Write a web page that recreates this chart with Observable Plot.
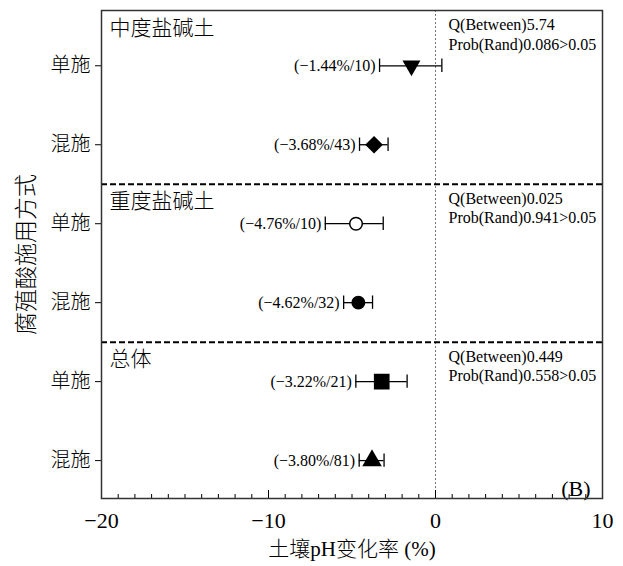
<!DOCTYPE html>
<html><head><meta charset="utf-8">
<script src="https://cdn.jsdelivr.net/npm/d3@7"></script>
<script src="https://cdn.jsdelivr.net/npm/@observablehq/plot@0.6"></script>
<style>body{margin:0;background:#fff}</style>
</head><body><div id="chart"></div>
<script>
// ---- data ----
const rows = [1, 2, 3, 4, 5, 6];
const methods = ["单施", "混施", "单施", "混施", "单施", "混施"];
const means = [-1.44, -3.68, -4.76, -4.62, -3.22, -3.80];
const lower = [-3.35, -4.55, -6.60, -5.50, -4.77, -4.57];
const upper = [0.38, -2.84, -3.13, -3.77, -1.70, -3.08];
const counts = [10, 43, 10, 32, 21, 81];
const markers = ["triangle-down", "diamond", "circle-open", "circle", "square", "triangle"];
const groupNames = ["中度盐碱土", "重度盐碱土", "总体"];
const groupStart = [1, 3, 5];
const qBetween = ["5.74", "0.025", "0.449"];
const probRand = ["0.086", "0.941", "0.558"];
const xMajorTicks = [-20, -10, 0, 10];
const xMinorTicks = d3.range(-20, 11, 1).filter(v => !xMajorTicks.includes(v));
const xLabel = "土壤pH变化率 (%)";
const yLabel = "腐殖酸施用方式";
const panelTag = "(B)";

// ---- build ----
const data = rows.map((r, i) => ({row: r, method: methods[i], mean: means[i], lo: lower[i], hi: upper[i], n: counts[i], marker: markers[i]}));
const yTop = 0.3, yBottom = 6.48;
const groups = groupNames.map((g, i) => {
  const top = i === 0 ? yTop : groupStart[i] - 0.5;
  return {name: g, top, q: `Q(Between)${qBetween[i]}\nProb(Rand)${probRand[i]}>0.05`};
});
const seps = groupStart.slice(1).map(s => s - 0.5);
const caps = data.flatMap(d => [{x: d.lo, row: d.row}, {x: d.hi, row: d.row}]);
const capH = 0.085;
const fmt = d3.format(".2f");

const markerStyle = {
  "triangle-down": {symbol: "triangle", rotate: 180, fill: "black", r: 5.7},
  "diamond": {symbol: "diamond2", rotate: 0, fill: "black", r: 7},
  "circle-open": {symbol: "circle", rotate: 0, fill: "white", r: 6.3},
  "circle": {symbol: "circle", rotate: 0, fill: "black", r: 6.2},
  "square": {symbol: "square", rotate: 0, fill: "black", r: 8},
  "triangle": {symbol: "triangle", rotate: 0, fill: "black", r: 6.3}
};
const dotMarks = Object.entries(markerStyle).map(([k, s]) =>
  Plot.dot(data.filter(d => d.marker === k), {x: "mean", y: "row", symbol: s.symbol, rotate: s.rotate, fill: s.fill, stroke: "black", strokeWidth: 1.5, r: s.r}));

const chart = Plot.plot({
  width: 623, height: 566,
  marginTop: 10, marginBottom: 68, marginLeft: 101, marginRight: 21,
  style: {fontFamily: "'Liberation Serif', 'Noto Sans CJK SC', serif", fontSize: "16px", fontWeight: 300, background: "white", color: "black"},
  x: {domain: [-20, 10]},
  y: {domain: [yBottom, yTop]},
  marks: [
    Plot.ruleX([0], {stroke: "#777", strokeWidth: 1, strokeDasharray: "2,2"}),
    Plot.ruleY(seps, {stroke: "black", strokeWidth: 2, strokeDasharray: "6,3"}),
    Plot.ruleY(data, {y: "row", x1: "lo", x2: "hi", stroke: "black", strokeWidth: 1.3}),
    Plot.ruleX(caps, {x: "x", y1: d => d.row - capH, y2: d => d.row + capH, stroke: "black", strokeWidth: 1.3}),
    ...dotMarks,
    Plot.text(data, {x: "lo", y: "row", text: d => `(${fmt(d.mean)}%/${d.n})`, textAnchor: "end", dx: -4, fontSize: 16}),
    Plot.text(groups, {y: d => d.top + 0.22, text: "name", frameAnchor: "left", textAnchor: "start", dx: 8, fontSize: 21}),
    Plot.text(groups, {x: 0, y: d => d.top + 0.08, text: "q", textAnchor: "start", lineAnchor: "top", dx: 13, fontSize: 16, lineHeight: 1.2}),
    Plot.text([panelTag], {frameAnchor: "bottom-right", textAnchor: "end", lineAnchor: "bottom", dx: -12, dy: -3, fontSize: 22}),
    Plot.axisY({ticks: rows, tickFormat: i => methods[i - 1], tickSize: 6, tickPadding: 5, fontSize: 20, label: yLabel, labelAnchor: "center", labelOffset: 84, labelArrow: "none"}),
    Plot.axisX({ticks: xMinorTicks, tickSize: -4, tickFormat: () => "", label: null}),
    Plot.axisX({ticks: xMajorTicks, tickSize: -8, tickPadding: 22, fontSize: 22, label: xLabel, labelAnchor: "center", labelOffset: 57, labelArrow: "none"}),
    Plot.frame({stroke: "#333", strokeWidth: 1.5})
  ]
});
// enlarge the y-axis title and soften the x-axis title size
chart.querySelectorAll("g[aria-label='y-axis label'] text").forEach(t => t.setAttribute("font-size", 23));
chart.querySelectorAll("g[aria-label='x-axis label'] text").forEach(t => t.setAttribute("font-size", 21));
document.getElementById("chart").appendChild(chart);
</script>
</body></html>
